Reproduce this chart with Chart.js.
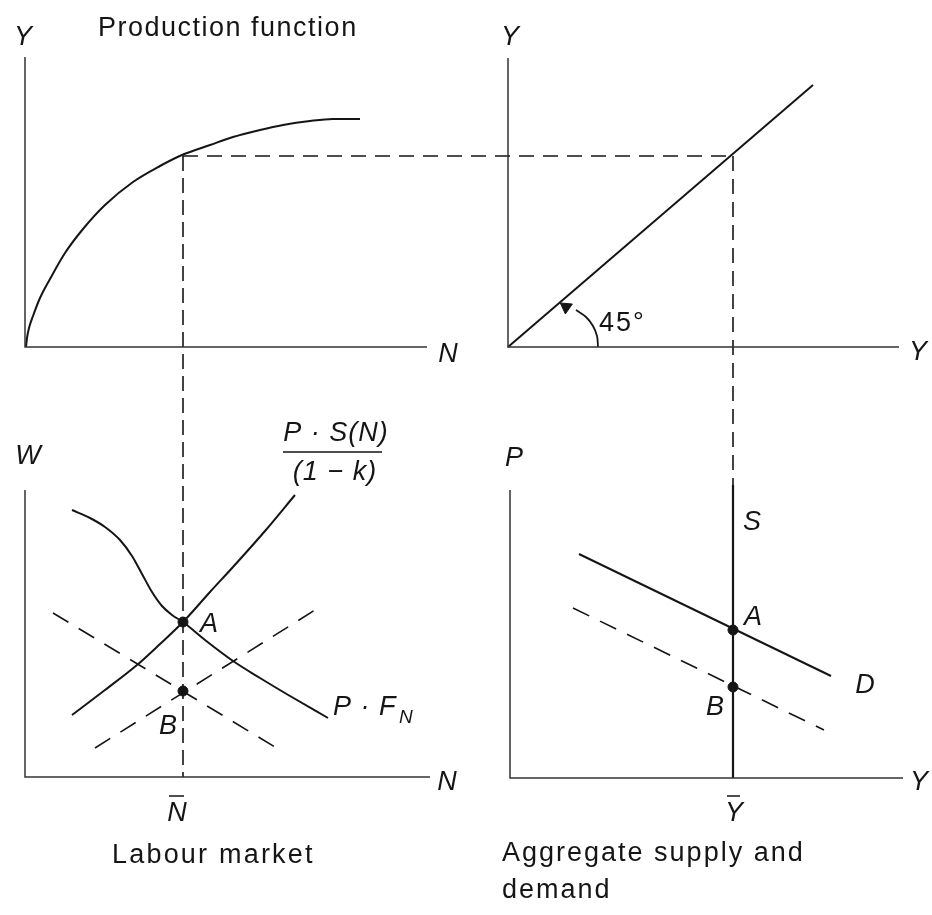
<!DOCTYPE html>
<html>
<head>
<meta charset="utf-8">
<script src="https://cdn.jsdelivr.net/npm/chart.js@4.4.1/dist/chart.umd.min.js"></script>
<style>
html,body{margin:0;padding:0;background:#fff;}
#c{display:block;}
</style>
</head>
<body>
<canvas id="c" width="932" height="915"></canvas>
<script>
// Diagram coordinates: x to the right, y downward (0..932, 0..915)
// Top-left: production function
const prodN = [26, 27, 29, 33, 40, 50, 65, 83, 105, 133, 160, 182, 210, 233, 260, 283, 310, 333, 360];
const prodY = [347, 338, 328, 316, 298, 279, 253, 229, 205, 182, 166, 155, 145, 137, 130, 125, 121, 119, 119];
// Top-right: 45 degree line
const lineYx = [508, 813];
const lineYy = [347, 85];
const arcX = [598, 597, 593, 586, 576];
const arcY = [347, 336, 326, 317, 310];
// Bottom-left: labour market
const supplyN = [72, 105, 137, 160, 183, 210, 233, 265, 295];
const supplyW = [715, 690, 665, 644, 622, 592, 567, 531, 495];
const demandN = [72, 90, 105, 120, 132, 142, 152, 162, 172, 183, 205, 233, 260, 290, 328];
const demandW = [510, 518, 527, 540, 556, 574, 592, 606, 615, 622, 640, 661, 678, 696, 718];
const demand2N = [53, 280];
const demand2W = [613, 750];
const supply2N = [95, 315];
const supply2W = [748, 610];
// Bottom-right: aggregate supply and demand
const adY = [579, 831];
const adP = [554, 676];
const ad2Y = [573, 824];
const ad2P = [608, 730];
const asY = [733, 733];
const asP = [485, 778];
// Equilibrium values
const Nbar = 183, Ybar = 733, Yeq = 156;
const wA = 622, wB = 691, pA = 630, pB = 687;
// Axes
const axTL = {x: [25, 25, 427], y: [57, 347, 347]};
const axTR = {x: [508, 508, 899], y: [58, 347, 347]};
const axBL = {x: [25, 25, 430], y: [490, 777, 777]};
const axBR = {x: [510, 510, 903], y: [490, 778, 778]};

const zip = (xs, ys) => xs.map((x, i) => ({x: x, y: ys[i]}));
const INK = '#151515';
function line(xs, ys, opt) {
  return Object.assign({
    data: zip(xs, ys), showLine: true, pointRadius: 0, borderColor: INK,
    borderWidth: 2, fill: false, tension: 0, clip: false
  }, opt || {});
}

const datasets = [
  line(axTL.x, axTL.y, {borderWidth: 1.5, borderColor: '#333'}),
  line(axTR.x, axTR.y, {borderWidth: 1.5, borderColor: '#333'}),
  line(axBL.x, axBL.y, {borderWidth: 1.5, borderColor: '#333'}),
  line(axBR.x, axBR.y, {borderWidth: 1.5, borderColor: '#333'}),
  line(prodN, prodY, {cubicInterpolationMode: 'monotone'}),
  line(lineYx, lineYy),
  line(arcX, arcY, {tension: 0.4, borderWidth: 1.8}),
  {data: [{x: 566, y: 307}], pointStyle: 'triangle', pointRadius: 7, pointRotation: -55,
   backgroundColor: INK, borderColor: INK, borderWidth: 1, showLine: false, clip: false},
  // dashed guide lines
  line([Nbar, Nbar], [Yeq, 777], {borderWidth: 1.6, borderDash: [15, 7]}),
  line([Nbar, Ybar], [Yeq, Yeq], {borderWidth: 1.4, borderDash: [15, 9]}),
  line([Ybar, Ybar], [Yeq, asP[0]], {borderWidth: 1.6, borderDash: [15, 8]}),
  // labour market
  line(supplyN, supplyW, {cubicInterpolationMode: 'monotone'}),
  line(demandN, demandW, {cubicInterpolationMode: 'monotone'}),
  line(demand2N, demand2W, {borderWidth: 1.6, borderDash: [18, 12]}),
  line(supply2N, supply2W, {borderWidth: 1.6, borderDash: [18, 12]}),
  // aggregate supply/demand
  line(asY, asP, {borderWidth: 2.2}),
  line(adY, adP),
  line(ad2Y, ad2P, {borderWidth: 1.6, borderDash: [18, 12]}),
  // equilibrium points
  {data: [{x: Nbar, y: wA}, {x: Nbar, y: wB}, {x: Ybar, y: pA}, {x: Ybar, y: pB}],
   pointRadius: 5, pointBackgroundColor: INK, pointBorderColor: INK, showLine: false, clip: false}
];

const italicLabels = ['Y', 'N', 'Y', 'Y', 'W', 'N', 'P', 'Y', 'A', 'B', 'S', 'A', 'B', 'D'];
const titleLabels = ['Production function', 'Labour market', 'Aggregate supply and', 'demand', '45°'];

const textPlugin = {
  id: 'texts',
  afterDatasetsDraw(chart) {
    const ctx = chart.ctx;
    const X = v => chart.scales.x.getPixelForValue(v);
    const Yp = v => chart.scales.y.getPixelForValue(v);
    ctx.save();
    ctx.fillStyle = INK;
    ctx.textBaseline = 'middle';
    const IT = 'italic 27px "Liberation Sans", Arial, sans-serif';
    const RG = '27px "Liberation Sans", Arial, sans-serif';
    function t(s, x, y, font, align, ls) {
      ctx.font = font;
      ctx.textAlign = align || 'center';
      try { ctx.letterSpacing = (ls || 0) + 'px'; } catch (e) {}
      ctx.fillText(s, X(x), Yp(y));
    }
    // axis labels
    t(italicLabels[0], 23, 37, IT);
    t(italicLabels[1], 448, 354, IT);
    t(italicLabels[2], 510, 37, IT);
    t(italicLabels[3], 918, 352, IT);
    t(italicLabels[4], 28, 456, IT);
    t(italicLabels[5], 447, 782, IT);
    t(italicLabels[6], 514, 458, IT);
    t(italicLabels[7], 919, 782, IT);
    // point labels
    t(italicLabels[8], 209, 624, IT);
    t(italicLabels[9], 168, 726, IT);
    t(italicLabels[10], 752, 522, IT);
    t(italicLabels[11], 753, 617, IT);
    t(italicLabels[12], 715, 707, IT);
    t(italicLabels[13], 865, 685, IT);
    // titles
    t(titleLabels[0], 98, 29, RG, 'left', 1.5);
    t(titleLabels[1], 112, 856, RG, 'left', 2.2);
    t(titleLabels[2], 502, 854, RG, 'left', 2.0);
    t(titleLabels[3], 502, 891, RG, 'left', 2.0);
    t(titleLabels[4], 599, 324, RG, 'left', 2.0);
    // fraction label
    t('P \u00b7 S(N)', 336, 433, IT, 'center', 1);
    t('(1 \u2212 k)', 335, 472, IT, 'center', 1);
    // P · F_N
    t('P \u00b7 F', 333, 707, IT, 'left', 1);
    t('N', 399, 718, 'italic 19px "Liberation Sans", Arial, sans-serif', 'left', 0);
    // N bar and Y bar
    t('N', 177, 813, IT);
    t('Y', 734, 813, IT);
    try { ctx.letterSpacing = '0px'; } catch (e) {}
    ctx.strokeStyle = INK;
    ctx.lineWidth = 1.5;
    ctx.beginPath();
    ctx.moveTo(X(283), Yp(452)); ctx.lineTo(X(382), Yp(452));
    ctx.moveTo(X(169), Yp(796)); ctx.lineTo(X(184), Yp(796));
    ctx.moveTo(X(727), Yp(796)); ctx.lineTo(X(740), Yp(796));
    ctx.stroke();
    ctx.restore();
  }
};

new Chart(document.getElementById('c'), {
  type: 'scatter',
  data: {datasets: datasets},
  options: {
    responsive: false,
    animation: false,
    events: [],
    layout: {padding: 0, autoPadding: false},
    plugins: {legend: {display: false}, tooltip: {enabled: false}},
    scales: {
      x: {type: 'linear', min: 0, max: 932, display: false},
      y: {type: 'linear', min: 0, max: 915, reverse: true, display: false}
    }
  },
  plugins: [textPlugin]
});
</script>
</body>
</html>
